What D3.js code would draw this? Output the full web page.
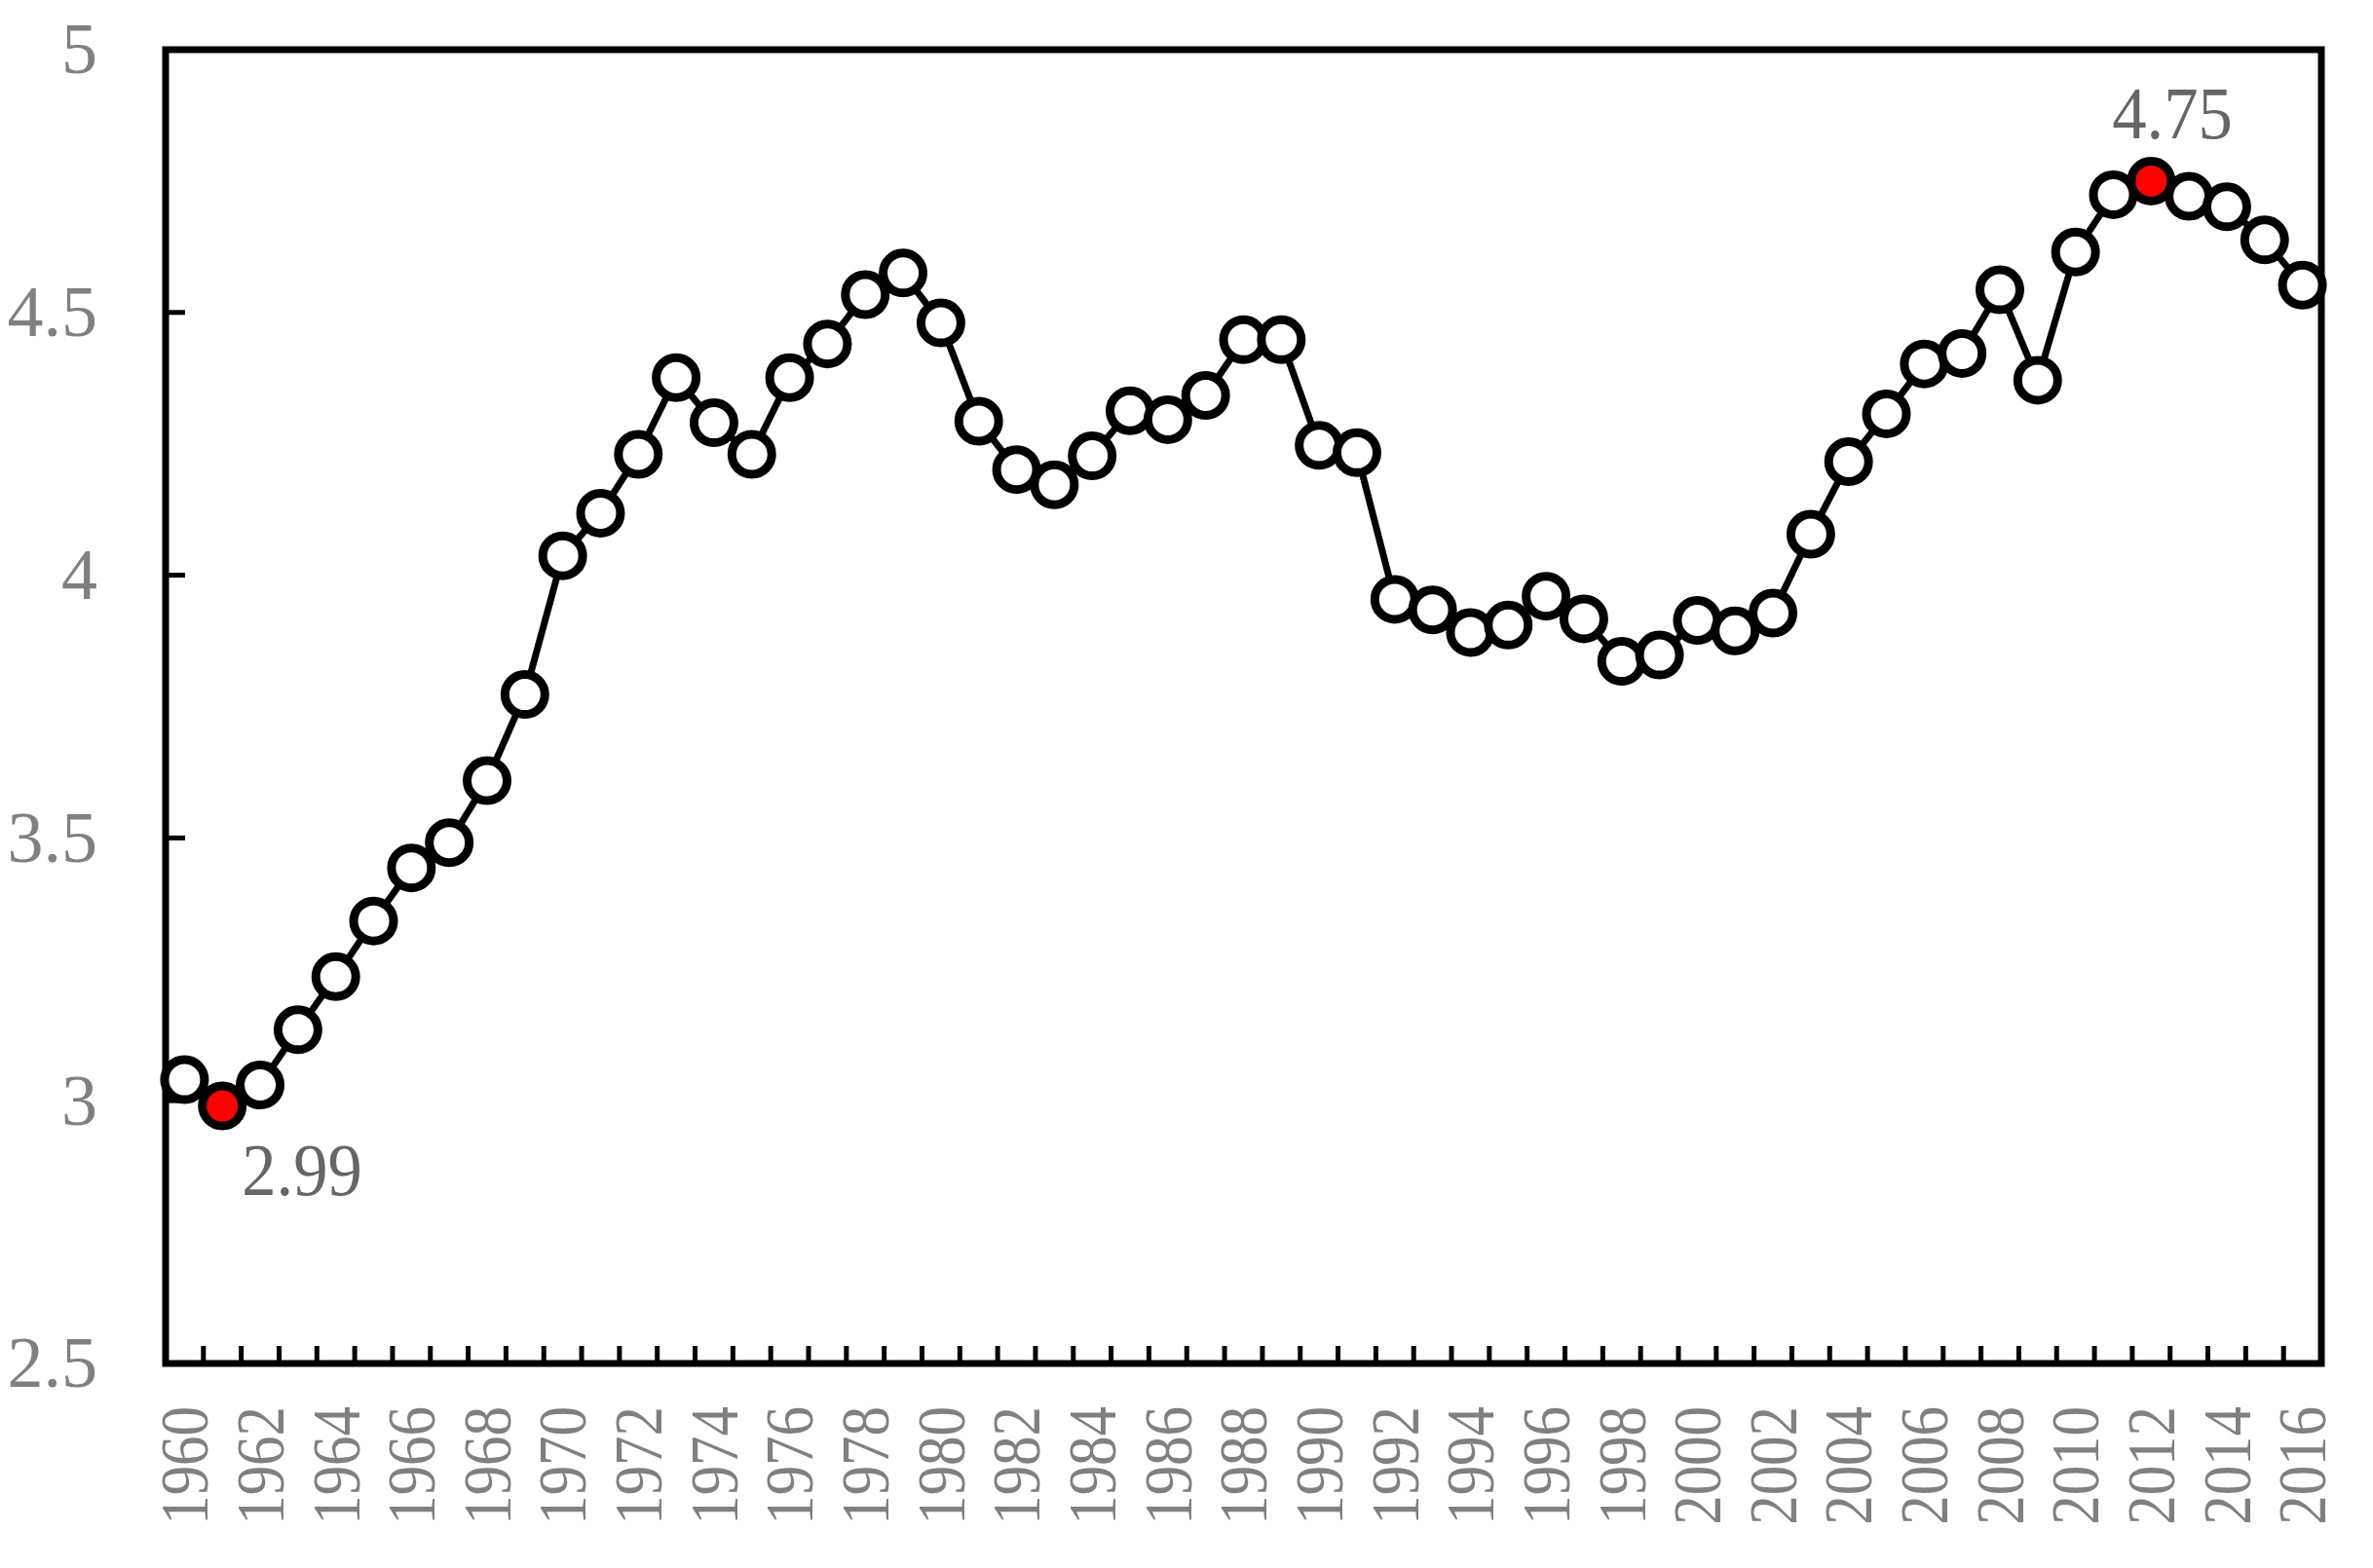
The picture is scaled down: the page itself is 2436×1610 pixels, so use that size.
<!DOCTYPE html>
<html>
<head>
<meta charset="utf-8">
<script src="https://cdn.jsdelivr.net/npm/d3@7"></script>
<style>
  html, body { margin: 0; padding: 0; background: #fff; }
  svg { display: block; }
</style>
</head>
<body>
<svg id="chart" width="2436" height="1610"></svg>
<script>
const years = d3.range(1960, 2017);
const values = [
  3.04, 2.99, 3.03, 3.135, 3.236, 3.342, 3.443, 3.491, 3.609, 3.773,
  4.037, 4.118, 4.230, 4.376, 4.290, 4.230, 4.376, 4.440, 4.534, 4.575,
  4.480, 4.293, 4.201, 4.172, 4.227, 4.313, 4.296, 4.342, 4.448, 4.448,
  4.247, 4.233, 3.954, 3.934, 3.891, 3.905, 3.960, 3.917, 3.836, 3.848,
  3.914, 3.894, 3.928, 4.078, 4.216, 4.307, 4.402, 4.422, 4.543, 4.371,
  4.615, 4.724, 4.75, 4.721, 4.701, 4.638, 4.552
];
const yTicks = [2.5, 3, 3.5, 4, 4.5, 5];
const xTickLabels = years.filter(y => y % 2 === 0);
const highlights = [
  { year: 1961, value: 2.99, label: "2.99", dx: 20, dy: 91 },
  { year: 2012, value: 4.75, label: "4.75", dx: -40, dy: -44 }
];

const W = 2436, H = 1610;
const m = { left: 170, right: W - 2383, top: 51, bottom: H - 1400 };
const FONT = '"Liberation Serif", "Times New Roman", serif';

const svg = d3.select("#chart");
const x = d3.scaleBand().domain(years).range([m.left, W - m.right]).padding(0);
const y = d3.scaleLinear().domain([2.5, 5]).range([H - m.bottom, m.top]);
const cx = d => x(d) + x.bandwidth() / 2;

// Frame
svg.append("rect")
  .attr("x", m.left).attr("y", m.top)
  .attr("width", W - m.left - m.right).attr("height", H - m.top - m.bottom)
  .attr("fill", "none").attr("stroke", "#000").attr("stroke-width", 7);

// X ticks at band boundaries (inward)
const xBoundaries = years.slice(1);
svg.append("g").selectAll("line").data(xBoundaries).join("line")
  .attr("x1", d => x(d)).attr("x2", d => x(d))
  .attr("y1", H - m.bottom).attr("y2", H - m.bottom - 18)
  .attr("stroke", "#000").attr("stroke-width", 5);

// Y ticks (inward)
svg.append("g").selectAll("line").data(yTicks.slice(1, -1)).join("line")
  .attr("x1", m.left).attr("x2", m.left + 20)
  .attr("y1", d => y(d)).attr("y2", d => y(d))
  .attr("stroke", "#000").attr("stroke-width", 5);

// Y labels
svg.append("g").selectAll("text").data(yTicks).join("text")
  .attr("x", 100).attr("y", d => y(d))
  .attr("dy", "0.33em")
  .attr("text-anchor", "end")
  .attr("font-family", FONT).attr("font-size", 74)
  .attr("fill", "#808080")
  .text(d => d);

// X labels rotated (slightly condensed)
svg.append("g").selectAll("text").data(xTickLabels).join("text")
  .attr("transform", d => `translate(${cx(d)}, ${H - m.bottom + 44}) rotate(-90) scale(0.87,1)`)
  .attr("text-anchor", "end")
  .attr("dy", "0.34em")
  .attr("font-family", FONT).attr("font-size", 70)
  .attr("fill", "#808080")
  .text(d => d);

// Line
const data = years.map((yr, i) => ({ year: yr, value: values[i] }));
svg.append("path").datum(data)
  .attr("fill", "none").attr("stroke", "#000").attr("stroke-width", 7)
  .attr("stroke-linejoin", "round")
  .attr("d", d3.line().x(d => cx(d.year)).y(d => y(d.value)));

// Markers
const hiYears = new Set(highlights.map(h => h.year));
svg.append("g").selectAll("circle").data(data).join("circle")
  .attr("cx", d => cx(d.year)).attr("cy", d => y(d.value))
  .attr("r", 20.5)
  .attr("fill", d => hiYears.has(d.year) ? "#ff0000" : "#fff")
  .attr("stroke", "#000").attr("stroke-width", 9);

// Highlight labels
svg.append("g").selectAll("text").data(highlights).join("text")
  .attr("transform", d => `translate(${cx(d.year) + d.dx}, ${y(d.value) + d.dy}) scale(0.93,1)`)
  .attr("font-family", FONT).attr("font-size", 76)
  .attr("fill", "#666666")
  .text(d => d.label);
</script>
</body>
</html>
